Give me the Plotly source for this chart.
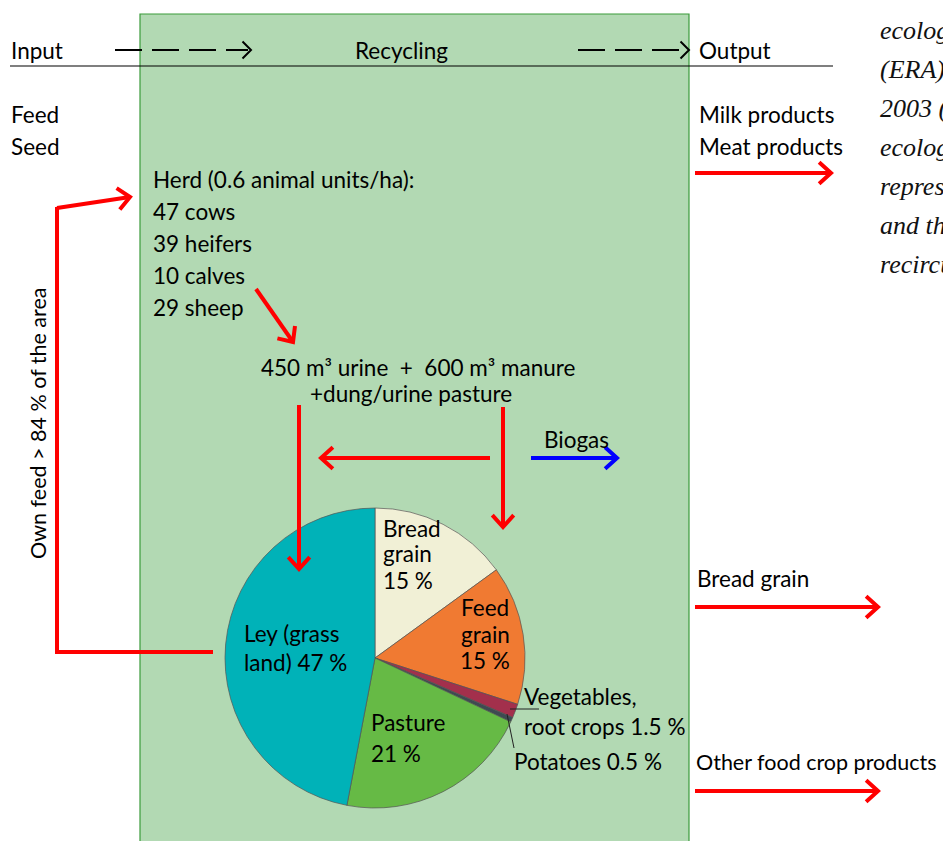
import math
import plotly.graph_objects as go

W, H = 951, 841
OFF = 8  # page body margin
FW, FH = W - OFF, H - OFF

# ---------------- data ----------------
crop_labels = ["Bread grain", "Feed grain", "Vegetables, root crops", "Potatoes", "Pasture", "Ley (grass land)"]
crop_share = [15, 15, 1.5, 0.5, 21, 47]
crop_colors = ["#F1F0D6", "#F07A32", "#A3304C", "#3E4A52", "#66BA45", "#00B2B8"]

herd_lines = ["Herd (0.6 animal units/ha):", "47 cows", "39 heifers", "10 calves", "29 sheep"]
input_items = ["Feed", "Seed"]
output_items = ["Milk products", "Meat products"]
side_text = ["ecologi", "(ERA)", "2003 (", "ecologi", "represe", "and th", "recircu"]

FONT = "Lato"
FS = 22.5
RED = "#FF0000"

fig = go.Figure()

px0, px1, py0, py1 = 225, 525, 508, 808
fig.add_trace(go.Pie(
    labels=crop_labels, values=crop_share, sort=False, direction="clockwise", rotation=0,
    marker=dict(colors=crop_colors, line=dict(color="#555555", width=0.7)),
    textinfo="none", hoverinfo="label+percent", showlegend=False,
    domain=dict(x=[(px0 - OFF) / FW, (px1 - OFF) / FW],
                y=[1 - (py1 - OFF) / FH, 1 - (py0 - OFF) / FH]),
))

shapes = []
annos = []


def line(x0, y0, x1, y1, color=RED, width=4, dash=None):
    d = dict(type="line", x0=x0, y0=y0, x1=x1, y1=y1, xref="x", yref="y",
             line=dict(color=color, width=width), layer="above")
    if dash:
        d["line"]["dash"] = dash
    shapes.append(d)


def head(x0, y0, x1, y1, color=RED, width=4, L=16, ang=42):
    a = math.atan2(y1 - y0, x1 - x0)
    pts = []
    for s in (1, -1):
        b = a + math.pi - s * math.radians(ang)
        pts.append((x1 + L * math.cos(b), y1 + L * math.sin(b)))
    path = f"M {pts[0][0]:.1f} {pts[0][1]:.1f} L {x1} {y1} L {pts[1][0]:.1f} {pts[1][1]:.1f}"
    shapes.append(dict(type="path", path=path, xref="x", yref="y",
                       line=dict(color=color, width=width), layer="above"))


def arrow(x0, y0, x1, y1, color=RED, width=4, L=16, ang=42):
    line(x0, y0, x1, y1, color, width)
    head(x0, y0, x1, y1, color, width, L, ang)


def text(x, y, s, anchor="left", size=FS, color="black", family=FONT, angle=0, style="normal"):
    annos.append(dict(x=x, y=y, xref="x", yref="y", text=s, showarrow=False,
                      xanchor=anchor, yanchor="middle", textangle=angle,
                      font=dict(family=family, size=size, color=color, style=style)))


# green recycling box
shapes.append(dict(type="rect", x0=140, y0=14, x1=689, y1=860, xref="x", yref="y",
                   fillcolor="#B2D9B3", line=dict(color="#3B9B3B", width=1.2), layer="below"))
# top rule
line(10, 66, 833, 66, color="black", width=1.2)

# dashed arrows (input / output)
line(115, 50, 248, 50, color="black", width=2, dash="27px,10px")
head(200, 50, 251, 50, color="black", width=2, L=12, ang=45)
line(578, 50, 686, 50, color="black", width=2, dash="27px,10px")
head(640, 50, 689, 50, color="black", width=2, L=12, ang=45)

# header texts
text(9, 50, "Input")
text(401, 50, "Recycling", anchor="center")
text(697, 50, "Output")

for i, s in enumerate(input_items):
    text(9, 114 + 32 * i, s)
for i, s in enumerate(output_items):
    text(697, 114 + 32 * i, s)
arrow(695, 173, 831, 173)

# side italic text (cut off at right edge, as in the source page)
for i, s in enumerate(side_text):
    text(878, 30 + 39 * i, s, family="Liberation Serif", size=26, color="#111111", style="italic")

# herd
for i, s in enumerate(herd_lines):
    text(151, 179 + 32 * i, s)
arrow(256, 289, 293, 342)

# manure text
text(418, 367, "450 m³ urine  +  600 m³ manure", anchor="center")
text(411, 393, "+dung/urine pasture", anchor="center")

# red flows to field
arrow(299, 405, 299, 569)
arrow(503, 407, 503, 527)
arrow(490, 458, 321, 458)
# biogas
arrow(531, 458, 617, 458, color="#0000FF")
text(576, 439, "Biogas", anchor="center")

# own feed loop
line(213, 652, 57, 652)
line(57, 654, 57, 207)
arrow(57, 208, 130, 197)
text(38, 424, "Own feed > 84 % of the area", anchor="center", angle=-90, size=21.5)

# outputs bottom
text(695, 578, "Bread grain")
arrow(695, 607, 878, 607)
text(694, 762, "Other food crop products", size=21.5)
arrow(695, 791, 878, 791)

# pie labels
text(381, 528, "Bread")
text(381, 553, "grain")
text(381, 580, "15 %")
text(485, 607, "Feed", anchor="center")
text(485, 634, "grain", anchor="center")
text(485, 660, "15 %", anchor="center")
text(242, 633, "Ley (grass")
text(242, 662, "land) 47 %")
text(369, 722, "Pasture")
text(369, 753, "21 %")
text(522, 696, "Vegetables,")
text(522, 726, "root crops 1.5 %")
text(512, 761, "Potatoes 0.5 %")
line(510, 709, 539, 709, color="#222222", width=1)
line(507, 714, 514, 748, color="#222222", width=1)

fig.update_layout(
    width=FW, height=FH, margin=dict(l=0, r=0, t=0, b=0),
    paper_bgcolor="white", plot_bgcolor="rgba(0,0,0,0)",
    xaxis=dict(range=[OFF, W], visible=False, fixedrange=True),
    yaxis=dict(range=[H, OFF], visible=False, fixedrange=True),
    shapes=shapes, annotations=annos, showlegend=False,
)
fig.write_html("out.html")
